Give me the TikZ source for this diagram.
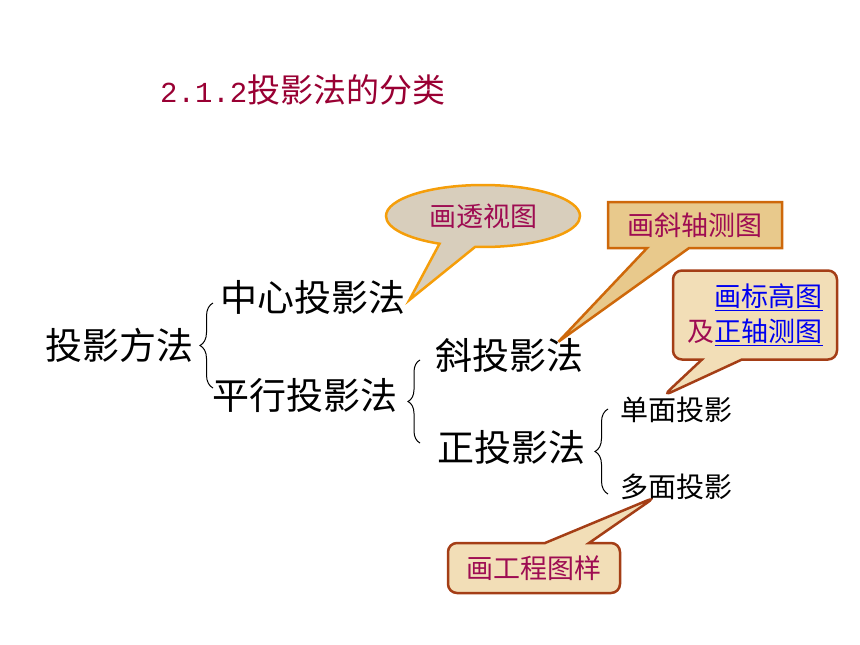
\documentclass[tikz,border=0pt]{standalone}
\usepackage{fontspec}
\setmainfont{Noto Sans CJK SC}
\newfontfamily\digfont{Liberation Mono}
\usetikzlibrary{shapes.callouts,decorations.pathreplacing,calc}
\definecolor{titlered}{RGB}{153,0,51}
\definecolor{tipred}{RGB}{158,12,82}
\definecolor{linkblue}{RGB}{0,0,240}
\definecolor{oranline}{RGB}{245,158,10}
\definecolor{greyfill}{RGB}{216,206,188}
\definecolor{tanfill}{RGB}{232,201,140}
\definecolor{tanline}{RGB}{206,104,10}
\definecolor{paperfill}{RGB}{242,222,183}
\definecolor{brownline}{RGB}{164,62,22}
\tikzset{
  big/.style={inner sep=0pt,anchor=west,font=\fontsize{37}{40}\selectfont},
  small/.style={inner sep=0pt,anchor=west,font=\fontsize{28}{32}\selectfont},
  kuohao/.style={decorate,decoration={brace,amplitude=#1},line width=1pt},
  tiptext/.style={text=tipred,font=\fontsize{27}{35}\selectfont,line width=2.5pt,inner sep=0pt},
}
\begin{document}
\begin{tikzpicture}[x=1pt,y=-1pt]
	\useasboundingbox (0,0) rectangle (860,645);
	\node[anchor=west,inner sep=0pt,text=titlered,font=\fontsize{33}{36}\selectfont] (title) at (160,90) {{\digfont\fontsize{29}{36}\selectfont 2.1.2}投影法的分类};
	% tree
	\node[big] (ty) at (45,345) {投影方法};
	\node[big] (zx) at (220,297) {中心投影法};
	\node[big] (px) at (212,395) {平行投影法};
	\node[big] (xt) at (435,355) {斜投影法};
	\node[big] (zt) at (437,447) {正投影法};
	\node[small] (dm) at (620,410) {单面投影};
	\node[small] (duo) at (620,487) {多面投影};
	\draw[kuohao=13pt] (213,388) -- (213,303);
	\draw[kuohao=12pt] (420,443) -- (420,360);
	\draw[kuohao=13pt] (608,494) -- (608,409);
	% callouts
	\coordinate (t1) at ($(zx.east)+(4,3)$);
	\coordinate (t2) at ($(xt.north east)+(-25,4)$);
	\coordinate (t3) at ($(dm.north)+(-13,-1)$);
	\coordinate (t4) at ($(duo.south)+(-21,-3)$);
	\node[tiptext,ellipse callout,draw=oranline,fill=greyfill,minimum width=194pt,minimum height=62pt,callout absolute pointer={(t1)},callout pointer arc=22] (tsst) at (483,216) {画透视图};
	\node[tiptext,rectangle callout,draw=tanline,fill=tanfill,minimum width=174pt,minimum height=46pt,callout absolute pointer={(t2)},callout pointer width=42pt] (xzc) at (695,225) {画斜轴测图};
	\node[tiptext,rectangle callout,rounded corners=9pt,draw=brownline,fill=paperfill,minimum width=164pt,minimum height=89pt,align=right,callout absolute pointer={(t3)},callout pointer width=40pt] (bgt) at (755,315) {\textcolor{linkblue}{\underline{画标高图}}\\及\textcolor{linkblue}{\underline{正轴测图}}};
	\node[tiptext,rectangle callout,rounded corners=9pt,draw=brownline,fill=paperfill,minimum width=172pt,minimum height=50pt,callout absolute pointer={(t4)},callout pointer width=44pt] (gct) at (534,568) {画工程图样};
\end{tikzpicture}
\end{document}
